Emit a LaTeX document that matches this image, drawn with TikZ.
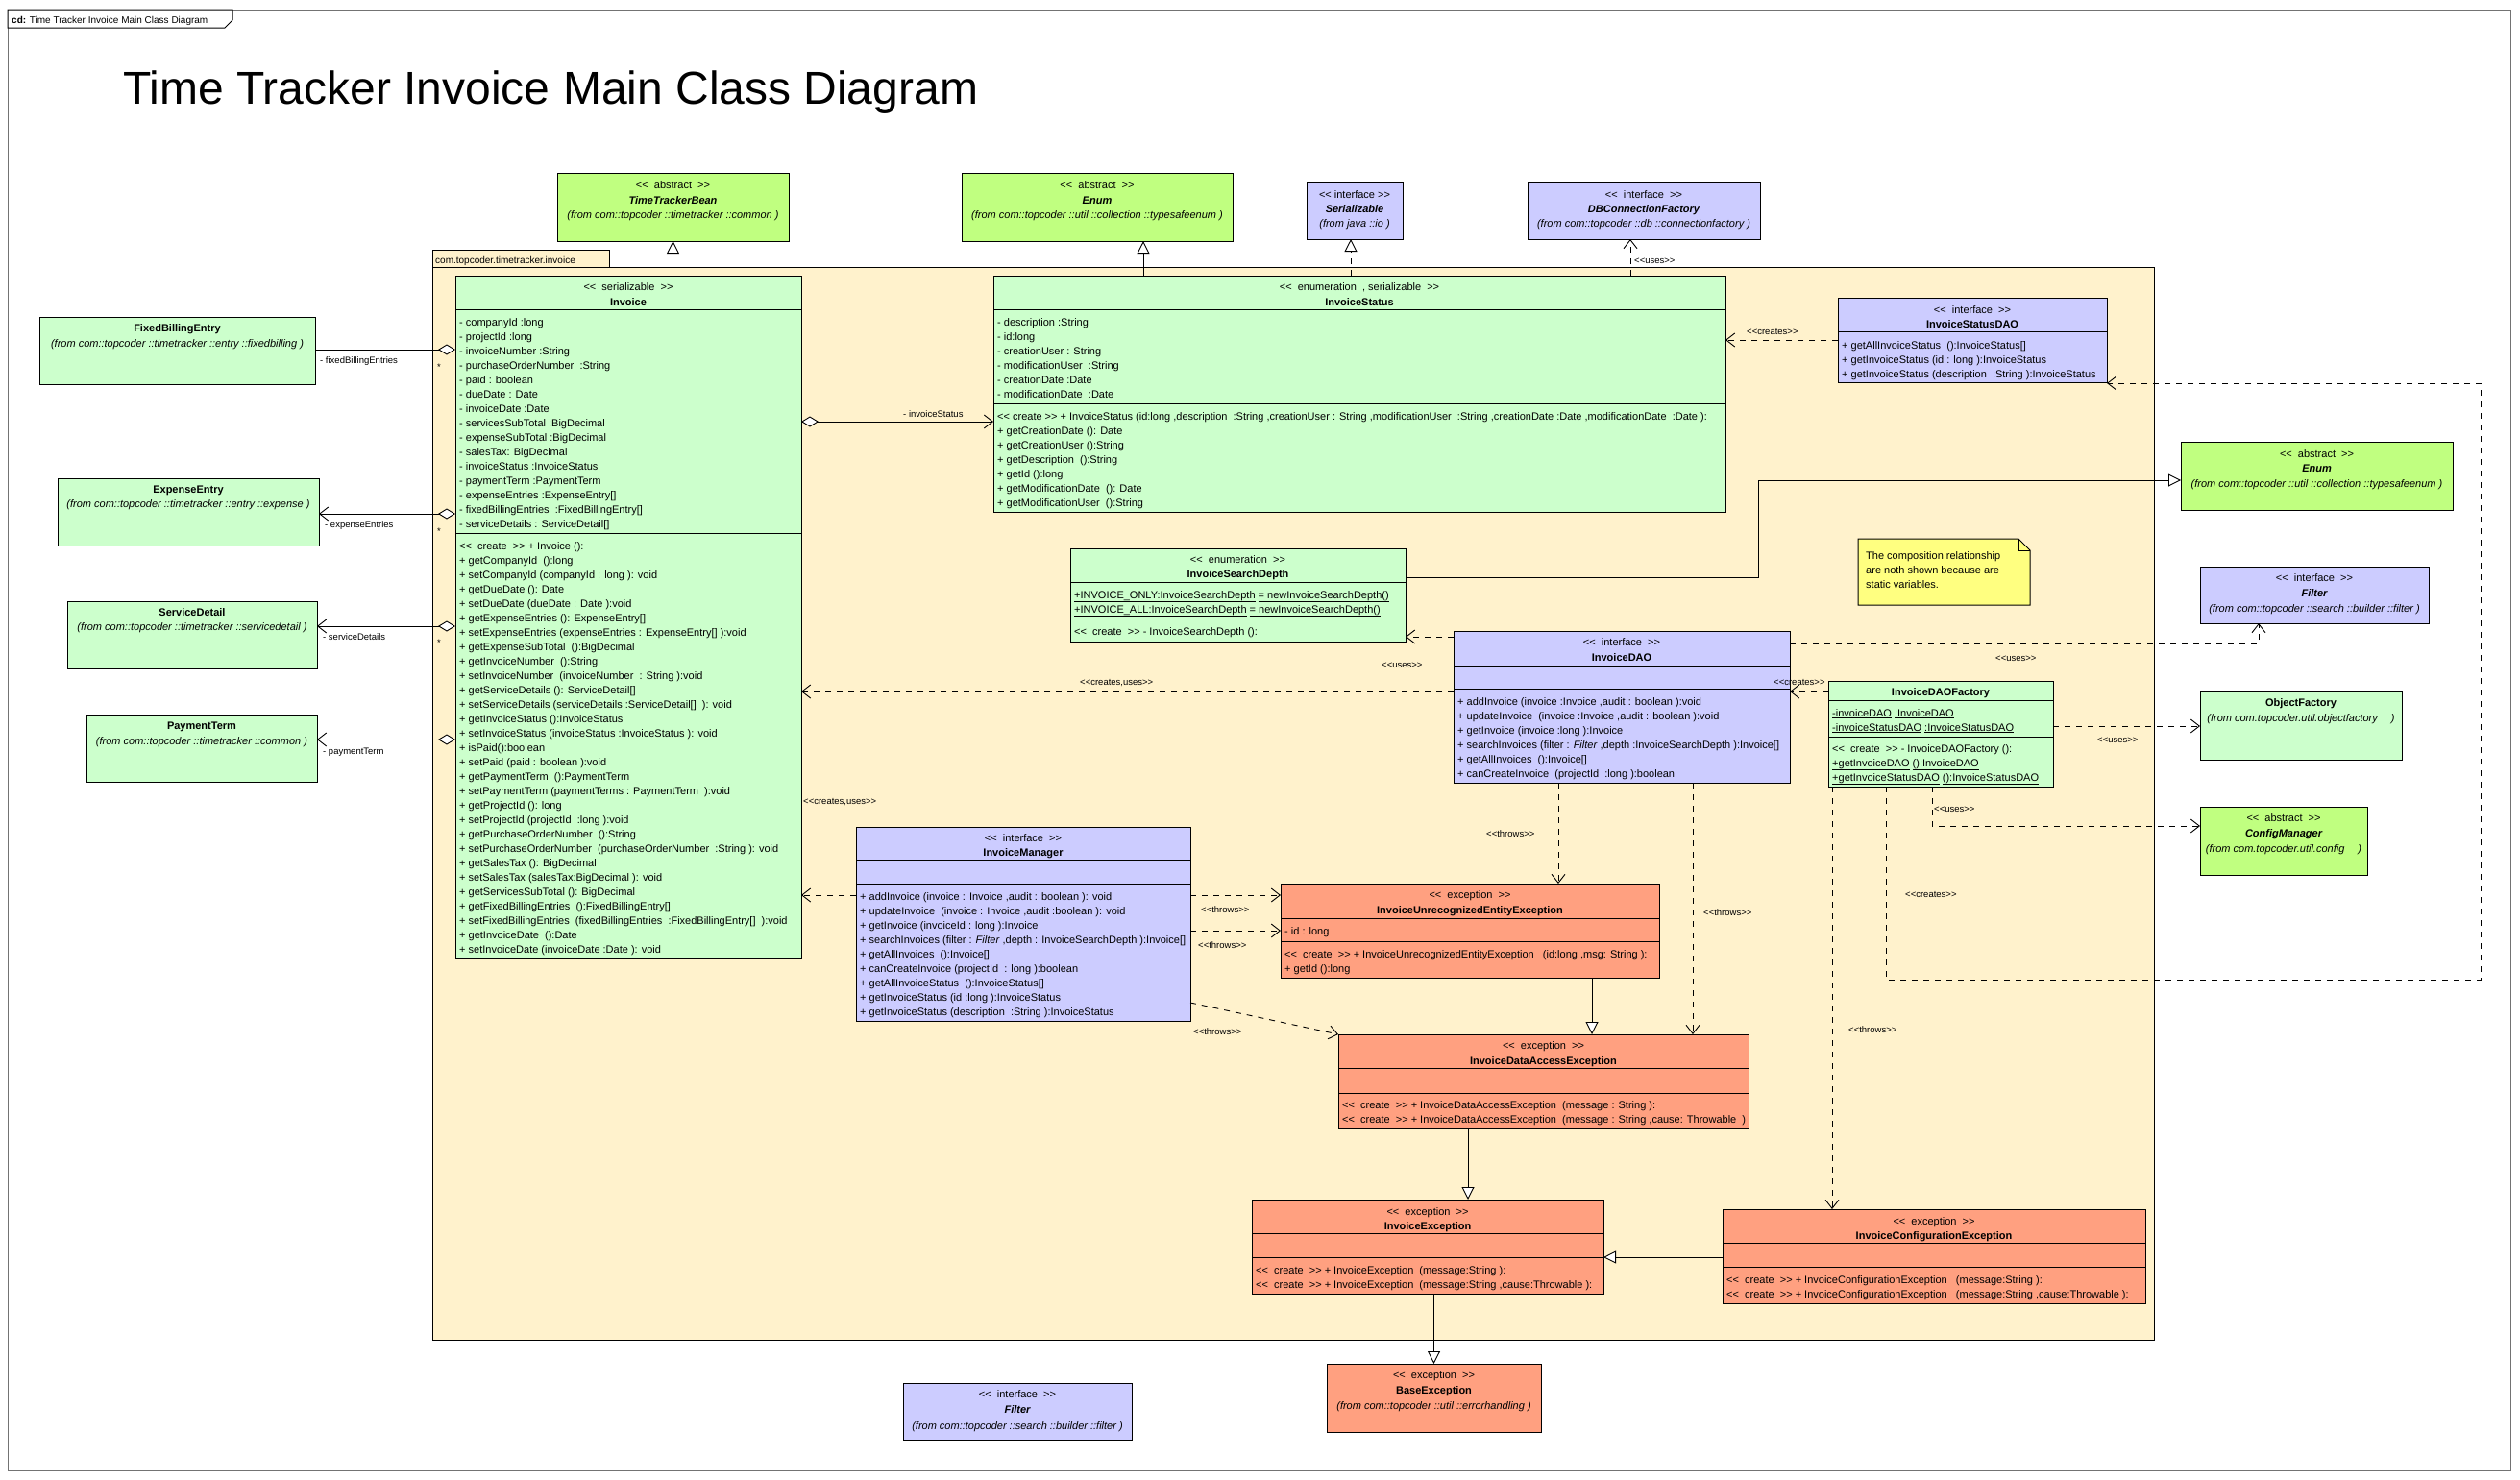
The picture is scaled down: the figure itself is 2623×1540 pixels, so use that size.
\documentclass[tikz,border=0pt]{standalone}
\usepackage{fontspec}
\setmainfont{Liberation Sans}[Ligatures=TeXOff]
\usetikzlibrary{arrows.meta}
\definecolor{clsgreen}{RGB}{204,255,204}
\definecolor{absgreen}{RGB}{192,255,128}
\definecolor{ifblue}{RGB}{204,204,255}
\definecolor{excred}{RGB}{255,160,128}
\definecolor{pkgfill}{RGB}{255,242,204}
\definecolor{notefill}{RGB}{255,255,128}
\tikzset{
  box/.style={draw, line width=1pt, inner sep=0pt, outer sep=0pt},
  boxline/.style={line width=1pt},
  row/.style={anchor=base west, inner sep=0pt, font=\fontsize{11}{13}\selectfont},
  lbl/.style={anchor=base west, inner sep=0pt, font=\fontsize{9.5}{11}\selectfont},
  conn/.style={line width=0.9pt},
  barb/.tip={Straight Barb[length=9pt,width=14pt]},
  hollow/.tip={Triangle[fill=white,length=13pt,width=13pt]},
  dia/.tip={Diamond[fill=white,length=18pt,width=11pt]},
  dep/.style={conn, dash pattern=on 6pt off 6pt, -barb},
  gen/.style={conn, -hollow},
  real/.style={conn, dash pattern=on 6pt off 6pt, -hollow},
  aggline/.style={conn, dia-},
  aggnav/.style={conn, dia-barb}
}
\newcommand{\umlbox}[6]{\node[box, fill=#6, minimum width={#4pt-#2pt}, minimum height={#5pt-#3pt}, anchor=north west] (#1) at (#2,#3) {};}
\newcommand{\hdr}[3]{\node[row, anchor=base] at (#1.north |- 0,#2) {#3};}
\newcommand{\cmpline}[2]{\draw[boxline] (#1.west |- 0,#2) -- (#1.east |- 0,#2);}
\newcommand{\rowlist}[3]{\foreach \entry [count=\k from 0] in {#3} {\node[row] at (#1,{#2+15*\k}) {\entry};}}
\newcommand{\stereo}[1]{<<\ \ #1\ \ >>}
\begin{document}
\begin{tikzpicture}[x=1pt,y=-1pt]
\fill[white] (0,0) rectangle (2623,1540);
\useasboundingbox (0,0) rectangle (2623,1540);
% frame and title
\draw[black!55, line width=1pt] (8,10) rectangle (2613,1531);
\draw[boxline, fill=white] (8,10) -- (242,10) -- (242,21) -- (234,29) -- (8,29) -- cycle;
\node[lbl, font=\fontsize{10}{12}\selectfont] (tab) at (12,24) {\textbf{cd:} Time Tracker Invoice Main Class Diagram};
\node[row, font=\fontsize{48}{50}\selectfont] (title) at (128,108) {Time Tracker Invoice Main Class Diagram};
% package
\draw[boxline, fill=pkgfill] (450,260) rectangle (634,278);
\draw[boxline, fill=pkgfill] (450,278) rectangle (2242,1395);
\node[lbl, font=\fontsize{10}{12}\selectfont] (pkg) at (453,274) {com.topcoder.timetracker.invoice};

% outside classes
\umlbox{fbe}{41}{330}{328}{400}{clsgreen}
\hdr{fbe}{345}{\bfseries FixedBillingEntry}
\hdr{fbe}{361}{\itshape (from com::topcoder ::timetracker ::entry ::fixedbilling )}
\umlbox{expense}{60}{498}{332}{568}{clsgreen}
\hdr{expense}{513}{\bfseries ExpenseEntry}
\hdr{expense}{528}{\itshape (from com::topcoder ::timetracker ::entry ::expense )}
\umlbox{service}{70}{626}{330}{696}{clsgreen}
\hdr{service}{641}{\bfseries ServiceDetail}
\hdr{service}{656}{\itshape (from com::topcoder ::timetracker ::servicedetail )}
\umlbox{payterm}{90}{744}{330}{814}{clsgreen}
\hdr{payterm}{759}{\bfseries PaymentTerm}
\hdr{payterm}{775}{\itshape (from com::topcoder ::timetracker ::common )}

\umlbox{ttbean}{580}{180}{821}{251}{absgreen}
\hdr{ttbean}{196}{\stereo{abstract}}
\hdr{ttbean}{212}{\bfseries\itshape TimeTrackerBean}
\hdr{ttbean}{227}{\itshape (from com::topcoder ::timetracker ::common )}
\umlbox{enumtop}{1001}{180}{1283}{251}{absgreen}
\hdr{enumtop}{196}{\stereo{abstract}}
\hdr{enumtop}{212}{\bfseries\itshape Enum}
\hdr{enumtop}{227}{\itshape (from com::topcoder ::util ::collection ::typesafeenum )}
\umlbox{serial}{1360}{190}{1460}{249}{ifblue}
\hdr{serial}{206}{<< interface >>}
\hdr{serial}{221}{\bfseries\itshape Serializable}
\hdr{serial}{236}{\itshape (from java ::io )}
\umlbox{dbcf}{1590}{190}{1832}{249}{ifblue}
\hdr{dbcf}{206}{\stereo{interface}}
\hdr{dbcf}{221}{\bfseries\itshape DBConnectionFactory}
\hdr{dbcf}{236}{\itshape (from com::topcoder ::db ::connectionfactory )}

\umlbox{enumright}{2270}{460}{2553}{531}{absgreen}
\hdr{enumright}{476}{\stereo{abstract}}
\hdr{enumright}{491}{\bfseries\itshape Enum}
\hdr{enumright}{507}{\itshape (from com::topcoder ::util ::collection ::typesafeenum )}
\umlbox{filterr}{2290}{590}{2528}{649}{ifblue}
\hdr{filterr}{605}{\stereo{interface}}
\hdr{filterr}{621}{\bfseries\itshape Filter}
\hdr{filterr}{637}{\itshape (from com::topcoder ::search ::builder ::filter )}
\umlbox{objfactory}{2290}{720}{2500}{791}{clsgreen}
\hdr{objfactory}{735}{\bfseries ObjectFactory}
\hdr{objfactory}{751}{\itshape (from com.topcoder.util.objectfactory \quad)}
\umlbox{cfgmgr}{2290}{840}{2464}{911}{absgreen}
\hdr{cfgmgr}{855}{\stereo{abstract}}
\hdr{cfgmgr}{871}{\bfseries\itshape ConfigManager}
\hdr{cfgmgr}{887}{\itshape (from com.topcoder.util.config \quad)}

\umlbox{filterb}{940}{1440}{1178}{1499}{ifblue}
\hdr{filterb}{1455}{\stereo{interface}}
\hdr{filterb}{1471}{\bfseries\itshape Filter}
\hdr{filterb}{1488}{\itshape (from com::topcoder ::search ::builder ::filter )}
\umlbox{baseexc}{1381}{1420}{1604}{1491}{excred}
\hdr{baseexc}{1435}{\stereo{exception}}
\hdr{baseexc}{1451}{\bfseries BaseException}
\hdr{baseexc}{1467}{\itshape (from com::topcoder ::util ::errorhandling )}

% Invoice
\umlbox{invoice}{474}{287}{834}{998}{clsgreen}
\hdr{invoice}{302}{\stereo{serializable}}
\hdr{invoice}{318}{\bfseries Invoice}
\cmpline{invoice}{322}
\cmpline{invoice}{555}
\rowlist{478}{339}{{- companyId :long},{- projectId :long},{- invoiceNumber :String},{- purchaseOrderNumber \ :String},{- paid : boolean},{- dueDate : Date},{- invoiceDate :Date},{- servicesSubTotal :BigDecimal},{- expenseSubTotal :BigDecimal},{- salesTax: BigDecimal},{- invoiceStatus :InvoiceStatus},{- paymentTerm :PaymentTerm},{- expenseEntries :ExpenseEntry[]},{- fixedBillingEntries \ :FixedBillingEntry[]},{- serviceDetails : ServiceDetail[]}}
\rowlist{478}{572}{{<< \ create \ >> + Invoice ():},{+ getCompanyId \ ():long},{+ setCompanyId (companyId : long ): void},{+ getDueDate (): Date},{+ setDueDate (dueDate : Date ):void},{+ getExpenseEntries (): ExpenseEntry[]},{+ setExpenseEntries (expenseEntries : ExpenseEntry[] ):void},{+ getExpenseSubTotal \ ():BigDecimal},{+ getInvoiceNumber \ ():String},{+ setInvoiceNumber \ (invoiceNumber \ : String ):void},{+ getServiceDetails (): ServiceDetail[]},{+ setServiceDetails (serviceDetails :ServiceDetail[] \ ): void},{+ getInvoiceStatus ():InvoiceStatus},{+ setInvoiceStatus (invoiceStatus :InvoiceStatus ): void},{+ isPaid():boolean},{+ setPaid (paid : boolean ):void},{+ getPaymentTerm \ ():PaymentTerm},{+ setPaymentTerm (paymentTerms : PaymentTerm \ ):void},{+ getProjectId (): long},{+ setProjectId (projectId \ :long ):void},{+ getPurchaseOrderNumber \ ():String},{+ setPurchaseOrderNumber \ (purchaseOrderNumber \ :String ): void},{+ getSalesTax (): BigDecimal},{+ setSalesTax (salesTax:BigDecimal ): void},{+ getServicesSubTotal (): BigDecimal},{+ getFixedBillingEntries \ ():FixedBillingEntry[]},{+ setFixedBillingEntries \ (fixedBillingEntries \ :FixedBillingEntry[] \ ):void},{+ getInvoiceDate \ ():Date},{+ setInvoiceDate (invoiceDate :Date ): void}}

% InvoiceStatus
\umlbox{istatus}{1034}{287}{1796}{533}{clsgreen}
\hdr{istatus}{302}{\stereo{enumeration \ , serializable}}
\hdr{istatus}{318}{\bfseries InvoiceStatus}
\cmpline{istatus}{322}
\cmpline{istatus}{420}
\rowlist{1038}{339}{{- description :String},{- id:long},{- creationUser : String},{- modificationUser \ :String},{- creationDate :Date},{- modificationDate \ :Date}}
\rowlist{1038}{437}{{<< create >> + InvoiceStatus (id:long ,description \ :String ,creationUser : String ,modificationUser \ :String ,creationDate :Date ,modificationDate \ :Date ):},{+ getCreationDate (): Date},{+ getCreationUser ():String},{+ getDescription \ ():String},{+ getId ():long},{+ getModificationDate \ (): Date},{+ getModificationUser \ ():String}}

\umlbox{isdao}{1913}{310}{2193}{398}{ifblue}
\hdr{isdao}{326}{\stereo{interface}}
\hdr{isdao}{341}{\bfseries InvoiceStatusDAO}
\cmpline{isdao}{345}
\rowlist{1917}{363}{{+ getAllInvoiceStatus \ ():InvoiceStatus[]},{+ getInvoiceStatus (id : long ):InvoiceStatus},{+ getInvoiceStatus (description \ :String ):InvoiceStatus}}

\umlbox{isdepth}{1114}{571}{1463}{668}{clsgreen}
\hdr{isdepth}{586}{\stereo{enumeration}}
\hdr{isdepth}{601}{\bfseries InvoiceSearchDepth}
\cmpline{isdepth}{606}
\cmpline{isdepth}{644}
\rowlist{1118}{623}{{\underline{+INVOICE\_ONLY:InvoiceSearchDepth} \underline{= newInvoiceSearchDepth()}},{\underline{+INVOICE\_ALL:InvoiceSearchDepth} \underline{= newInvoiceSearchDepth()}}}
\rowlist{1118}{661}{{<< \ create \ >> - InvoiceSearchDepth ():}}

% note
\draw[boxline, fill=notefill] (1934,561) -- (2101,561) -- (2113,573) -- (2113,630) -- (1934,630) -- cycle;
\draw[boxline] (2101,561) -- (2101,573) -- (2113,573);
\rowlist{1942}{582}{{The composition relationship},{are noth shown because are},{static variables.}}

\umlbox{idao}{1513}{657}{1863}{815}{ifblue}
\hdr{idao}{672}{\stereo{interface}}
\hdr{idao}{688}{\bfseries InvoiceDAO}
\cmpline{idao}{693}
\cmpline{idao}{717}
\rowlist{1517}{734}{{+ addInvoice (invoice :Invoice ,audit : boolean ):void},{+ updateInvoice \ (invoice :Invoice ,audit : boolean ):void},{+ getInvoice (invoice :long ):Invoice},{+ searchInvoices (filter : \textit{Filter} ,depth :InvoiceSearchDepth ):Invoice[]},{+ getAllInvoices \ ():Invoice[]},{+ canCreateInvoice \ (projectId \ :long ):boolean}}

\umlbox{idaof}{1903}{709}{2137}{819}{clsgreen}
\hdr{idaof}{724}{\bfseries InvoiceDAOFactory}
\cmpline{idaof}{729}
\cmpline{idaof}{767}
\rowlist{1907}{746}{{\underline{-invoiceDAO} \underline{:InvoiceDAO}},{\underline{-invoiceStatusDAO} \underline{:InvoiceStatusDAO}}}
\rowlist{1907}{783}{{<< \ create \ >> - InvoiceDAOFactory ():},{\underline{+getInvoiceDAO} \underline{():InvoiceDAO}},{\underline{+getInvoiceStatusDAO} \underline{():InvoiceStatusDAO}}}

\umlbox{imgr}{891}{861}{1239}{1063}{ifblue}
\hdr{imgr}{876}{\stereo{interface}}
\hdr{imgr}{891}{\bfseries InvoiceManager}
\cmpline{imgr}{895}
\cmpline{imgr}{920}
\rowlist{895}{937}{{+ addInvoice (invoice : Invoice ,audit : boolean ): void},{+ updateInvoice \ (invoice : Invoice ,audit :boolean ): void},{+ getInvoice (invoiceId : long ):Invoice},{+ searchInvoices (filter : \textit{Filter} ,depth : InvoiceSearchDepth ):Invoice[]},{+ getAllInvoices \ ():Invoice[]},{+ canCreateInvoice (projectId \ : long ):boolean},{+ getAllInvoiceStatus \ ():InvoiceStatus[]},{+ getInvoiceStatus (id :long ):InvoiceStatus},{+ getInvoiceStatus (description \ :String ):InvoiceStatus}}

% exceptions
\umlbox{iuee}{1333}{920}{1727}{1018}{excred}
\hdr{iuee}{935}{\stereo{exception}}
\hdr{iuee}{951}{\bfseries InvoiceUnrecognizedEntityException}
\cmpline{iuee}{956}
\cmpline{iuee}{980}
\rowlist{1337}{973}{{- id : long}}
\rowlist{1337}{997}{{<< \ create \ >> + InvoiceUnrecognizedEntityException \ \ (id:long ,msg: String ):},{+ getId ():long}}

\umlbox{idae}{1393}{1077}{1820}{1175}{excred}
\hdr{idae}{1092}{\stereo{exception}}
\hdr{idae}{1108}{\bfseries InvoiceDataAccessException}
\cmpline{idae}{1112}
\cmpline{idae}{1138}
\rowlist{1397}{1154}{{<< \ create \ >> + InvoiceDataAccessException \ (message : String ):},{<< \ create \ >> + InvoiceDataAccessException \ (message : String ,cause: Throwable \ )}}

\umlbox{iexc}{1303}{1249}{1669}{1347}{excred}
\hdr{iexc}{1265}{\stereo{exception}}
\hdr{iexc}{1280}{\bfseries InvoiceException}
\cmpline{iexc}{1284}
\cmpline{iexc}{1309}
\rowlist{1307}{1326}{{<< \ create \ >> + InvoiceException \ (message:String ):},{<< \ create \ >> + InvoiceException \ (message:String ,cause:Throwable ):}}

\umlbox{icexc}{1793}{1259}{2233}{1357}{excred}
\hdr{icexc}{1275}{\stereo{exception}}
\hdr{icexc}{1290}{\bfseries InvoiceConfigurationException}
\cmpline{icexc}{1294}
\cmpline{icexc}{1319}
\rowlist{1797}{1336}{{<< \ create \ >> + InvoiceConfigurationException \ \ (message:String ):},{<< \ create \ >> + InvoiceConfigurationException \ \ (message:String ,cause:Throwable ):}}

% associations
\draw[aggline] (invoice.west |- 0,364) -- (fbe.east |- 0,364);
\draw[aggnav] (invoice.west |- 0,535) -- (expense.east |- 0,535);
\draw[aggnav] (invoice.west |- 0,652) -- (service.east |- 0,652);
\draw[aggnav] (invoice.west |- 0,770) -- (payterm.east |- 0,770);
\draw[aggnav] (invoice.east |- 0,439) -- (istatus.west |- 0,439);
\node[lbl] (lfbe) at (333,378) {- fixedBillingEntries};
\node[lbl] (lee) at (338,549) {- expenseEntries};
\node[lbl] (lsd) at (336,666) {- serviceDetails};
\node[lbl] (lpt) at (336,785) {- paymentTerm};
\node[lbl] (sfbe) at (455,385) {*};
\node[lbl] (see) at (455,556) {*};
\node[lbl] (ssd) at (455,672) {*};
\node[lbl] (lis) at (940,434) {- invoiceStatus};

% generalizations
\draw[gen] (ttbean.south |- invoice.north) -- (ttbean.south);
\draw[gen] (istatus.north -| 1190,0) -- (enumtop.south -| 1190,0);
\draw[real] (istatus.north -| 1406,0) -- (serial.south -| 1406,0);
\draw[gen] (isdepth.east |- 0,601) -- (1830,601) |- (enumright.west |- 0,500);
\draw[gen] (iuee.south -| 1657,0) -- (idae.north -| 1657,0);
\draw[gen] (idae.south -| 1528,0) -- (iexc.north -| 1528,0);
\draw[gen] (icexc.west |- 0,1309) -- (iexc.east |- 0,1309);
\draw[gen] (iexc.south -| baseexc.north) -- (baseexc.north);

% dependencies
\draw[dep] (istatus.north -| 1697,0) -- (dbcf.south -| 1697,0);
\node[lbl] (luses1) at (1701,274) {<<uses>>};
\draw[dep] (isdao.west |- 0,354) -- (istatus.east |- 0,354);
\node[lbl] (lcr1) at (1818,348) {<<creates>>};
\draw[dep] (idao.west |- 0,663) -- (isdepth.east |- 0,663);
\node[lbl] (luses2) at (1438,695) {<<uses>>};
\draw[dep] (idao.west |- 0,720) -- (invoice.east |- 0,720);
\node[lbl] (lcu1) at (1124,713) {<<creates,uses>>};
\draw[dep] (idao.east |- 0,670) -- (2351,670) -- (filterr.south -| 2351,0);
\node[lbl] (luses3) at (2077,688) {<<uses>>};
\draw[dep] (idaof.west |- 0,720) -- (idao.east |- 0,720);
\node[lbl] (lcr2) at (1846,713) {<<creates>>};
\draw[dep] (idaof.east |- 0,756) -- (objfactory.west |- 0,756);
\node[lbl] (luses4) at (2183,773) {<<uses>>};
\draw[dep] (idaof.south -| 2011,0) |- (cfgmgr.west |- 0,860);
\node[lbl] (luses5) at (2013,845) {<<uses>>};
\draw[dep] (idaof.south -| 1963,0) -- (1963,1020) -- (2582,1020) -- (2582,399) -- (isdao.east |- 0,399);
\node[lbl] (lcr3) at (1983,934) {<<creates>>};
\draw[dep] (idaof.south -| 1907,0) -- (icexc.north -| 1907,0);
\node[lbl] (lth1) at (1924,1075) {<<throws>>};
\draw[dep] (idao.south -| 1622,0) -- (iuee.north -| 1622,0);
\node[lbl] (lth2) at (1547,871) {<<throws>>};
\draw[dep] (idao.south -| 1762,0) -- (idae.north -| 1762,0);
\node[lbl] (lth3) at (1773,953) {<<throws>>};
\draw[dep] (imgr.west |- 0,932) -- (invoice.east |- 0,932);
\node[lbl] (lcu2) at (836,837) {<<creates,uses>>};
\draw[dep] (imgr.east |- 0,932) -- (iuee.west |- 0,932);
\node[lbl] (lth4) at (1250,950) {<<throws>>};
\draw[dep] (imgr.east |- 0,969) -- (iuee.west |- 0,969);
\node[lbl] (lth5) at (1247,987) {<<throws>>};
\draw[dep] (imgr.east |- 0,1044) -- (idae.north west);
\node[lbl] (lth6) at (1242,1077) {<<throws>>};
\end{tikzpicture}
\end{document}
